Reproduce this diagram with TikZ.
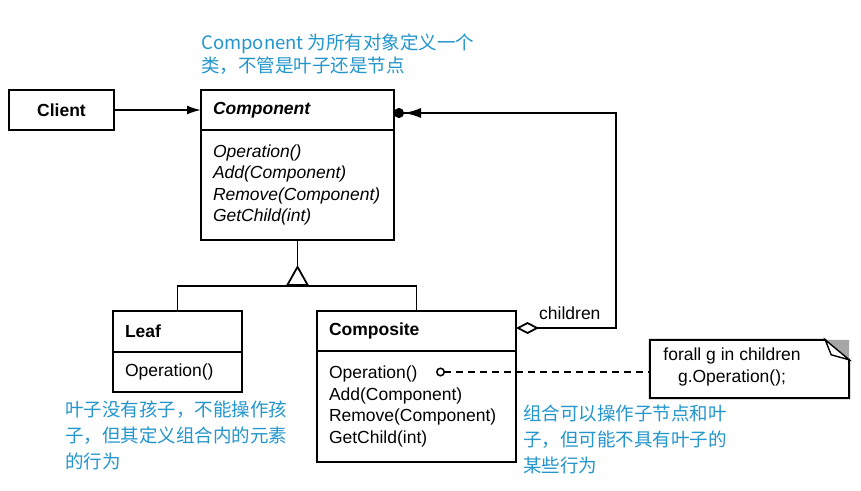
\documentclass[tikz,border=0pt]{standalone}
\usepackage{fontspec}
\setmainfont{Liberation Sans}
\newfontfamily\cjkfont{Noto Sans CJK SC}
\usetikzlibrary{arrows.meta,calc}
\definecolor{hintblue}{RGB}{35,150,205}
\newcommand{\umlsize}{\fontsize{17.5}{21.5}\selectfont}

\begin{document}
\begin{tikzpicture}[x=1pt, y=-1pt,
  umlbox/.style={draw, line width=2pt, outer sep=0pt, inner xsep=12pt, inner ysep=0pt, align=left, font=\umlsize},
  hint/.style={inner sep=0pt, anchor=north west, align=left, text=hintblue, font=\cjkfont\fontsize{18.5}{26}\selectfont},
  conn/.style={line width=1.8pt}]

\fill[white] (0,0) rectangle (861,490);
\useasboundingbox (0,0) rectangle (861,490);

% client
\node[umlbox, anchor=north west, minimum width=105pt, minimum height=40pt, font=\umlsize\bfseries] (client) at (9,90) {Client};

% component (abstract class)
\node[umlbox, anchor=north west, text width=169pt, minimum height=40pt, font=\umlsize\bfseries\itshape] (comphead) at (201,90) {Component};
\node[umlbox, anchor=north, text width=169pt, minimum height=110pt, font=\umlsize\itshape] (compbody) at (comphead.south)
  {Operation()\\Add(Component)\\Remove(Component)\\GetChild(int)};

% leaf
\node[umlbox, anchor=north west, text width=105pt, minimum height=41pt, font=\umlsize\bfseries] (leafhead) at (113,311) {Leaf};
\node[umlbox, anchor=north, text width=105pt, minimum height=40pt] (leafbody) at (leafhead.south) {Operation()};

% composite
\node[umlbox, anchor=north west, text width=175pt, minimum height=40pt, font=\umlsize\bfseries] (composhead) at (317,311) {Composite};
\node[umlbox, anchor=north, text width=175pt, minimum height=111pt] (composbody) at (composhead.south)
  {Operation()\\Add(Component)\\Remove(Component)\\GetChild(int)};

% note
\node[minimum width=199pt, minimum height=58pt, inner sep=0pt] (note) at (749.5,369) {};
\draw[line width=2pt] (note.south west) |- ($(note.north east)+(-24,0)$) -- ($(note.north east)+(0,20)$) -- (note.south east) -- cycle;
\fill[gray!70] ($(note.north east)+(-24,0)$) -- (note.north east) -- ($(note.north east)+(0,20)$) -- cycle;
\draw[line width=1.4pt, fill=white] ($(note.north east)+(-24,0)$) -- ($(note.north east)+(-18,15)$) -- ($(note.north east)+(0,20)$) -- cycle;
\node[align=center, inner sep=0pt, font=\umlsize] (notetext) at (732,367) {forall g in children\\g.Operation();};

% client uses component
\draw[conn, -{Latex[length=14pt,width=9pt]}] (client) -- (comphead);

% generalization
\coordinate (gen) at (297.5,286);
\coordinate (apex) at (297.5,265);
\draw[conn] (leafhead.north) |- (gen) -| (composhead.north);
\draw[conn] (apex) -- (compbody.south);
\draw[conn, -{Triangle[open,length=21pt,width=23pt]}] (gen) -- (apex);

% children aggregation
\draw[conn, {Diamond[open,length=23pt,width=12pt]}-{Latex[length=17pt,width=10pt,sep=0pt]Circle[length=10pt]}]
  ($(composhead.east)+(0,-3)$) -| (616,113) -- ($(comphead.east)+(0,3)$);
\node[anchor=west, inner sep=0pt, font=\umlsize] (childlabel) at (539,313) {children};

% operation note link
\coordinate (opdot) at (436,372);
\draw[line width=1.5pt, dash pattern=on 7pt off 5pt, {Circle[open,length=9pt,line width=1.5pt]}-] (opdot) -- (opdot -| note.west);

% hints
\node[hint] (comphint) at (201,34) {Component 为所有对象定义一个\\[-3pt]类，不管是叶子还是节点};
\node[hint] (leafhint) at (65,401) {叶子没有孩子，不能操作孩\\子，但其定义组合内的元素\\的行为};
\node[hint] (compohint) at (523,405) {组合可以操作子节点和叶\\子，但可能不具有叶子的\\某些行为};

\end{tikzpicture}
\end{document}
